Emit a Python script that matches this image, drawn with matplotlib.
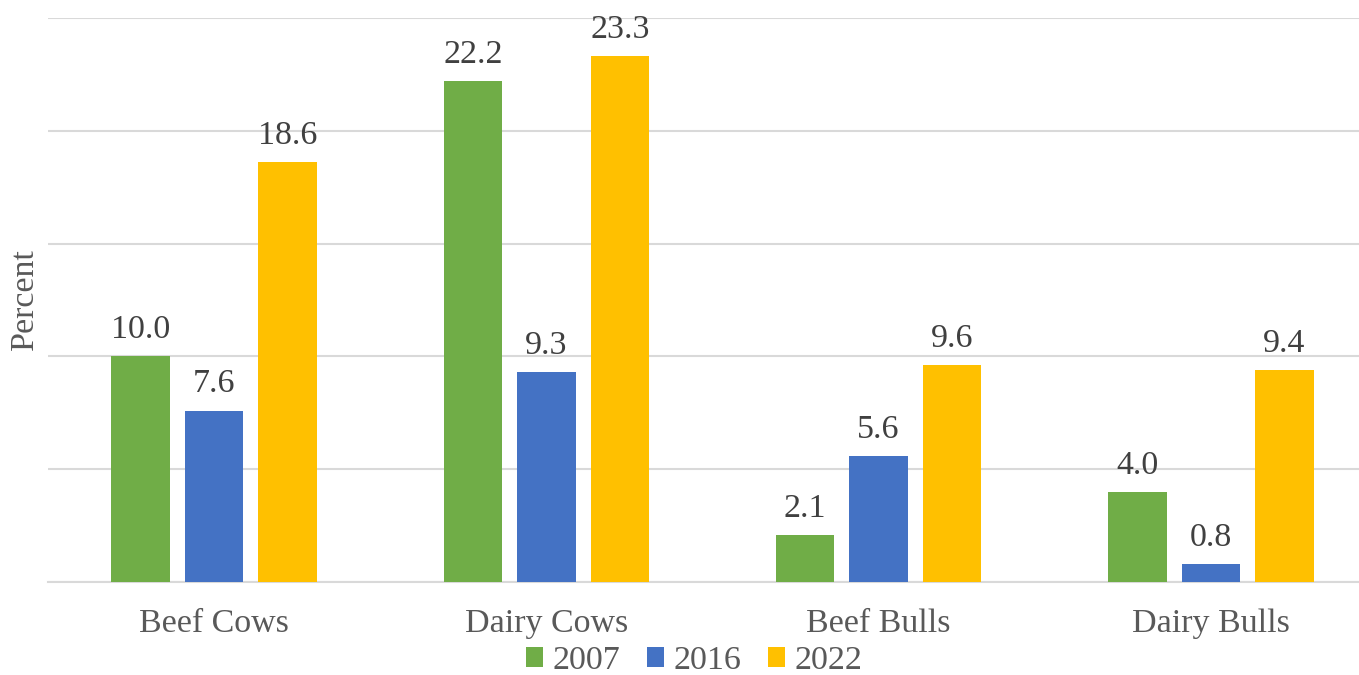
import matplotlib.pyplot as plt
import numpy as np

categories = ["Beef Cows", "Dairy Cows", "Beef Bulls", "Dairy Bulls"]
years = ["2007", "2016", "2022"]
values_2007 = [10.0, 22.2, 2.1, 4.0]
values_2016 = [7.6, 9.3, 5.6, 0.8]
values_2022 = [18.6, 23.3, 9.6, 9.4]
colors = ["#70AD47", "#4472C4", "#FFC000"]

text_color = "#595959"
label_color = "#404040"
fs = 24.5
plt.rcParams["font.family"] = ["Liberation Serif", "DejaVu Serif"]

fig = plt.figure(figsize=(13.59, 6.75), dpi=100)
W, H = 1359, 675
# plot area runs slightly past the right edge of the canvas
ax = fig.add_axes([48 / W, 1 - 582 / H, (1377 - 48) / W, (582 - 18) / H])

x = np.arange(len(categories))
bar_w = 0.176
step = 0.221
series = [values_2007, values_2016, values_2022]
for i, (vals, yr, c) in enumerate(zip(series, years, colors)):
    pos = x + (i - 1) * step
    bars = ax.bar(pos, vals, width=bar_w, color=c, label=yr, zorder=3)
    for b, v in zip(bars, vals):
        ax.annotate(f"{v:.1f}", (b.get_x() + b.get_width() / 2, v),
                    xytext=(0, 13), textcoords="offset points",
                    ha="center", va="baseline", fontsize=fs, color=label_color)

ax.set_xlim(-0.5, len(categories) - 0.5)
ax.set_ylim(0, 25)
ax.set_yticks(np.arange(0, 26, 5))
ax.set_yticklabels([])
ax.tick_params(axis="y", length=0)
ax.tick_params(axis="x", length=0, pad=19, labelsize=fs, labelcolor=text_color)
ax.set_xticks(x)
ax.set_xticklabels(categories)
ax.grid(axis="y", color="#D9D9D9", linewidth=1.5, zorder=0)
for s in ["top", "right", "left"]:
    ax.spines[s].set_visible(False)
ax.spines["bottom"].set_color("#D9D9D9")
ax.spines["bottom"].set_linewidth(1.5)

fig.text(25 / W, 1 - 299 / H, "Percent", rotation=90, ha="center", va="center",
         fontsize=fs, color=text_color)

fig.legend(loc="center", bbox_to_anchor=(694 / W, 1 - 661 / H), ncol=3, frameon=False,
           fontsize=fs, labelcolor=text_color, handlelength=0.51, handleheight=0.51,
           handletextpad=0.27, columnspacing=0.78, borderpad=0)

fig.savefig("out.png", dpi=100)
